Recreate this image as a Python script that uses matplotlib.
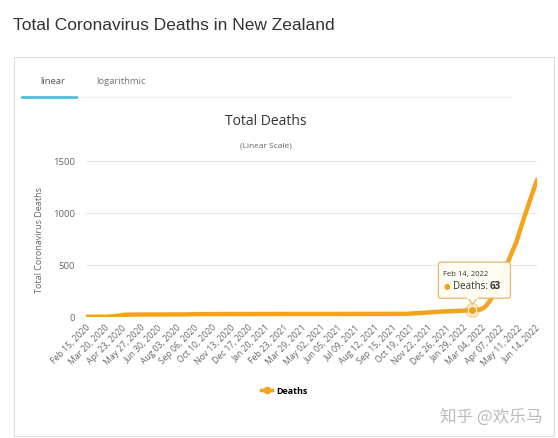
#!/usr/bin/env python3

#----------Total Coronavirus Deaths in New Zealand (worldometer style)----------#

import pandas as pd
import matplotlib
matplotlib.use('Agg')
import matplotlib.pyplot as plt
import matplotlib.dates as mdates
from matplotlib.lines import Line2D
from matplotlib.patches import Rectangle, FancyBboxPatch, Polygon
from matplotlib.transforms import IdentityTransform

#----------Data----------#

dates = ['2020-02-15', '2020-03-28', '2020-04-12', '2020-04-28', '2020-05-25',
         '2020-08-20', '2020-09-15', '2021-02-20', '2021-08-20', '2021-10-15',
         '2021-11-20', '2021-12-20', '2022-01-20', '2022-02-14', '2022-03-01',
         '2022-03-10', '2022-03-20', '2022-04-04', '2022-04-19', '2022-05-08',
         '2022-05-24', '2022-06-06', '2022-06-16']
deaths = [0, 0, 6, 19, 21, 22, 25, 26, 27, 28, 40, 50, 56, 63, 68,
          95, 160, 300, 490, 720, 975, 1170, 1320]

tick_start = '2020-02-15'
tick_step_days = 34
n_ticks = 26
y_ticks = [0, 500, 1000, 1500]

tip_date = '2022-02-14'
tip_value = 63

#----------Style----------#

orange = '#f5a21c'
text_grey = '#666666'
grid_grey = '#e6e6e6'

W, H = 558, 439

fig = plt.figure(figsize=(W / 100, H / 100), dpi=100)
fig.patch.set_facecolor('white')

def px(x, y):
    # top-left pixel coords -> figure fraction
    return x / W, 1 - y / H

#----------Page furniture----------#

fig.text(*px(13, 25), 'Total Coronavirus Deaths in New Zealand', fontsize=12.5,
         family='Liberation Sans', color='#333333', va='center', ha='left')

fig.add_artist(Rectangle(px(14, 437), (554 - 14) / W, (437 - 58) / H,
                         transform=fig.transFigure, fill=False,
                         edgecolor='#dddddd', linewidth=0.8))

fig.text(*px(40, 82), 'linear', fontsize=6.8, family='Open Sans',
         color='#555555', va='center')
fig.text(*px(96, 82), 'logarithmic', fontsize=6.8, family='Open Sans',
         color='#777777', va='center')
fig.add_artist(Line2D([76 / W, 510 / W], [1 - 97.5 / H] * 2,
                      transform=fig.transFigure, color='#eeeeee', lw=0.8))
fig.add_artist(Line2D([22 / W, 76 / W], [1 - 97.5 / H] * 2,
                      transform=fig.transFigure, color='#4fc1da', lw=2))

fig.text(*px(266, 122), 'Total Deaths', fontsize=10, family='Open Sans',
         color='#333333', ha='center', va='center')
fig.text(*px(266, 146), '(Linear Scale)', fontsize=6, family='Open Sans',
         color='#666666', ha='center', va='center')
fig.text(*px(40, 240), 'Total Coronavirus Deaths', fontsize=6.5,
         family='Open Sans', color=text_grey, rotation=90,
         ha='center', va='center')

#----------Chart----------#

x = pd.to_datetime(dates)
ax = fig.add_axes([86 / W, 1 - 317.7 / H, (537 - 86) / W, (317.7 - 162) / H])
ax.plot(x, deaths, color=orange, lw=3.2, solid_capstyle='round',
        solid_joinstyle='round', zorder=3)

ax.set_xlim(x[0], x[-1])
ax.set_ylim(0, 1500)
ax.set_yticks(y_ticks)
ax.grid(axis='y', color=grid_grey, lw=0.8)
ax.set_axisbelow(True)
for s in ax.spines.values():
    s.set_visible(False)
ax.tick_params(length=0, labelsize=6.8, labelcolor=text_grey, pad=8)
for lab in ax.get_yticklabels():
    lab.set_family('Open Sans')

ticks = pd.date_range(tick_start, periods=n_ticks, freq=f'{tick_step_days}D')
ax.set_xticks(ticks)
ax.xaxis.set_major_formatter(mdates.DateFormatter('%b %d, %Y'))
for lab in ax.get_xticklabels():
    lab.set_rotation(45)
    lab.set_ha('right')
    lab.set_rotation_mode('anchor')
    lab.set_family('Open Sans')
    lab.set_fontsize(6.2)
ax.tick_params(axis='x', pad=4)

#----------Hover point and tooltip----------#

tx = pd.Timestamp(tip_date)
ax.plot([tx], [tip_value], 'o', ms=11, color=orange, alpha=0.35, mec='none', zorder=4)
ax.plot([tx], [tip_value], 'o', ms=6, color=orange, mec='white', mew=0.8, zorder=5)

fig.canvas.draw()
p = ax.transData.transform((mdates.date2num(tx), tip_value))
cx, cy = p
box = FancyBboxPatch((cx - 34, cy + 12), 72, 36,
                     boxstyle='round,pad=0,rounding_size=2',
                     transform=IdentityTransform(), facecolor='#fffdf3',
                     edgecolor='#e2b46a', linewidth=0.9, alpha=0.95, zorder=6)
fig.add_artist(box)
fig.add_artist(Polygon([[cx - 5, cy + 12.5], [cx + 5, cy + 12.5], [cx, cy + 6]],
                       closed=True, transform=IdentityTransform(),
                       facecolor='#fffdf3', edgecolor='#e2b46a', lw=0.9, zorder=6))
fig.add_artist(Line2D([cx - 4.3, cx + 4.3], [cy + 12, cy + 12],
                      transform=IdentityTransform(), color='#fffdf3', lw=1.4, zorder=7))
fig.text(cx - 29, cy + 37, 'Feb 14, 2022', transform=IdentityTransform(),
         fontsize=5.5, family='Open Sans', color='#333333', va='center', zorder=8)
fig.text(cx - 29, cy + 25, '\u25cf', transform=IdentityTransform(),
         fontsize=5.5, color=orange, va='center', zorder=8)
fig.text(cx - 19, cy + 25, 'Deaths: ', transform=IdentityTransform(),
         fontsize=7, family='Open Sans', color='#333333', va='center', zorder=8)
fig.text(cx + 17, cy + 25, f'{tip_value}', transform=IdentityTransform(),
         fontsize=7, family='Open Sans', weight='bold', color='#333333',
         va='center', zorder=8)

#----------Legend and watermark----------#

handle = Line2D([], [], color=orange, lw=2.5, marker='o', ms=4.5)
fig.legend([handle], ['Deaths'], loc='center', bbox_to_anchor=px(284, 392),
           frameon=False, handlelength=1.3, handletextpad=0.4,
           prop={'family': 'Open Sans', 'weight': 'bold', 'size': 6.5})

fig.text(*px(543, 417), '知乎 @欢乐马', fontsize=12,
         family=['Noto Sans CJK SC', 'DejaVu Sans'], color='#bbbbbb',
         ha='right', va='center')

fig.savefig('out.png', dpi=100)
